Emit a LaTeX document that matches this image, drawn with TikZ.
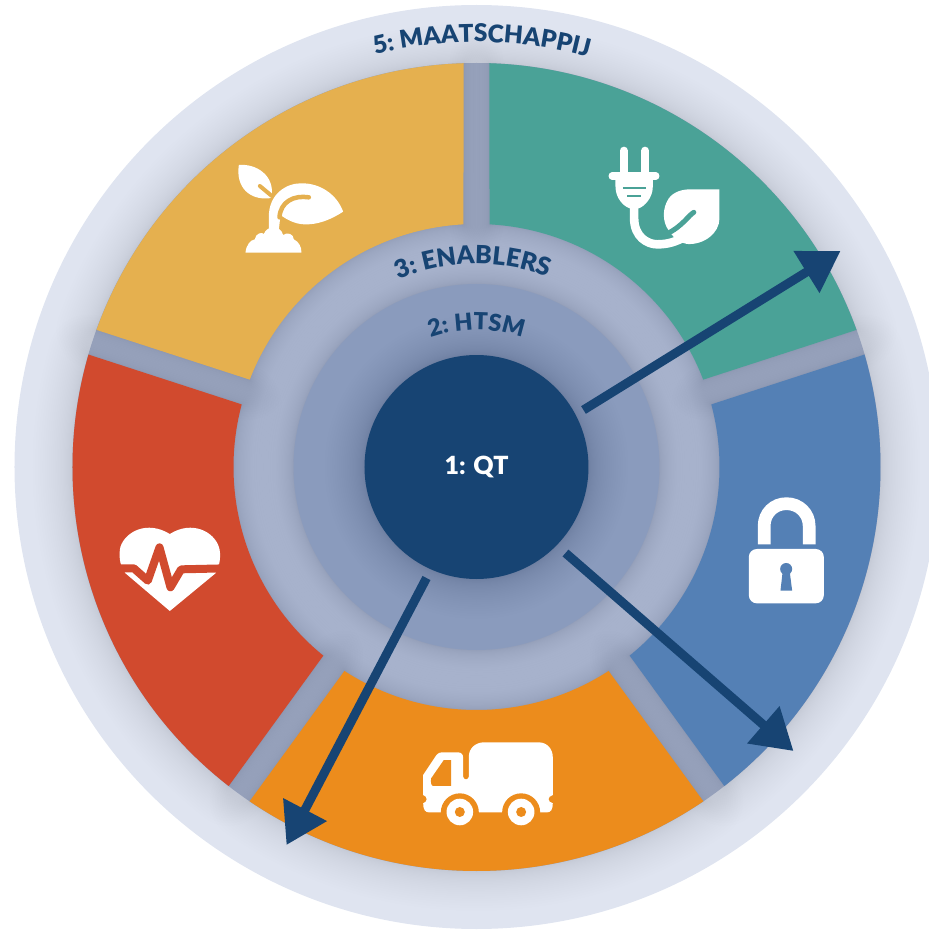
\documentclass[tikz,border=0pt]{standalone}
\usepackage{fontspec}
\usetikzlibrary{arrows.meta,decorations.text}
\newfontfamily\labelfont{Lato}[UprightFont=* Black]

\definecolor{qtblue}{HTML}{174473}
\definecolor{ringfive}{HTML}{DFE4F0}
\definecolor{ringthree}{HTML}{B0BBD5}
\definecolor{ringtwo}{HTML}{8A9BBD}
\definecolor{segyellow}{HTML}{E5B04F}
\definecolor{seggreen}{HTML}{4AA297}
\definecolor{segblue}{HTML}{5480B5}
\definecolor{segorange}{HTML}{EC8C1C}
\definecolor{segred}{HTML}{D14A2E}

% one sector of the ring, between two gap angles
\newcommand{\segpath}[2]{(#1+3.07:243) -- (#1+1.84:404) arc[start angle=#1+1.84,end angle=#2-1.84,radius=404] -- (#2-3.07:243) arc[start angle=#2-3.07,end angle=#1+3.07,radius=243] -- cycle}
% soft edge round a path
\newcommand{\softedge}[1]{
  \foreach \i [evaluate=\i as \w using 80*(\i/30)^2] in {1,...,30}
    \draw[black!80!qtblue, opacity=.0052, line width=\w pt, line join=round] #1;
}
\newcommand{\curvedlabel}[4]{
  \path[decorate, decoration={text along path, text align=center,
    text={|\fontsize{#4}{#4}\labelfont\color{qtblue}|#1}}]
    (#2+40:#3) arc[start angle=#2+40,end angle=#2-40,radius=#3];
}

\tikzset{
  icon/.style 2 args={x=.3333pt, y=-.3333pt, shift={(#1pt-476pt,467pt-#2pt)}},
  qtarrow/.style={qtblue, line width=9pt, -{Triangle[length=40pt,width=47pt]}},
}

\begin{document}
\begin{tikzpicture}[x=1pt,y=1pt]
  \useasboundingbox (-476.5,-463) rectangle (452.5,467);

  \fill[ringfive] (0,0) circle (462);
  \fill[ringthree] (0,0) circle (404);

  % shadows first, so that no sector lies under its neighbour's
  \foreach \a/\b in {18/90,90/162,162/234,234/306,306/378}{
    \softedge{\segpath{\a}{\b}}
  }
  \foreach \a/\b/\col in {18/90/seggreen,90/162/segyellow,162/234/segred,234/306/segorange,306/378/segblue}{
    \fill[\col] \segpath{\a}{\b};
  }

  \softedge{(0,0) circle (183)}
  \fill[ringtwo] (0,0) circle (183);
  \softedge{(0,0) circle (112)}
  \node[circle, fill=qtblue, minimum size=224pt, inner sep=0pt, text=white] (qt) at (0,0) {\raisebox{-2pt}{\fontsize{25}{25}\labelfont 1: QT}};

  \curvedlabel{5: MAATSCHAPPIJ}{89.3}{425}{24.5}
  \curvedlabel{3: ENABLERS}{91}{203}{25}
  \curvedlabel{2: HTSM}{90}{137}{23.5}

  % plant
  \begin{scope}[icon={200}{130}]
    \fill[white] (115,105) .. controls (165,100) and (225,135) .. (213,203) -- (205,205) .. controls (150,210) and (105,175) .. (115,105) -- cycle;
    \draw[segyellow, line width=4pt, line cap=round] (178,168) -- (214,198);
    \fill[white] (205,300) -- (205,260) .. controls (205,190) and (260,160) .. (300,160) .. controls (360,158) and (410,195) .. (428,245) .. controls (390,270) and (350,285) .. (310,283) .. controls (285,282) and (260,270) .. (240,255) -- (235,300) -- cycle;
    \draw[segyellow, line width=4.5pt, line cap=round] (237,262) .. controls (240,215) and (280,195) .. (325,202);
    \fill[white] (135,368) .. controls (137,345) and (150,330) .. (163,328) .. controls (165,310) and (185,305) .. (190,312) .. controls (200,285) and (240,285) .. (248,315) .. controls (260,305) and (280,312) .. (280,328) .. controls (295,335) and (303,350) .. (303,368) -- cycle;
  \end{scope}

  % plug and leaf
  \begin{scope}[icon={590}{130}]
    \draw[white, line width=8pt, line cap=round] (100,62) -- (100,125);
    \draw[white, line width=8pt, line cap=round] (164,62) -- (164,125);
    \draw[white, line width=7.3pt, line cap=round] (65,138) -- (196,138);
    \fill[white] (75,140) -- (187,140) -- (187,170) .. controls (187,205) and (160,230) .. (145,235) -- (118,235) .. controls (100,230) and (75,205) .. (75,170) -- cycle;
    \draw[seggreen, line width=1.8pt] (97,173) -- (167,173) (110,198) -- (153,198);
    \fill[white] (387,178) -- (387,265) .. controls (387,310) and (340,345) .. (290,342) .. controls (270,340) and (250,325) .. (235,302) .. controls (215,275) and (215,235) .. (235,205) .. controls (250,185) and (275,178) .. (300,178) -- cycle;
    \draw[seggreen, line width=5pt, line cap=round] (310,247) .. controls (295,255) and (275,290) .. (228,312);
    \draw[white, line width=8.6pt] (131,230) -- (131,265) .. controls (131,320) and (170,343) .. (200,343) .. controls (235,343) and (255,335) .. (285,320);
  \end{scope}

  % heart
  \begin{scope}[icon={100}{510}]
    \fill[white] (208,303) -- (75,190) .. controls (55,165) and (55,130) .. (60,110) .. controls (75,65) and (140,30) .. (208,72) .. controls (275,30) and (340,65) .. (355,110) .. controls (362,130) and (360,165) .. (345,190) -- cycle;
    \draw[segred, line width=8pt, line join=round] (40,175) -- (100,175) -- (142,212) -- (177,112) -- (210,232) -- (242,178) -- (375,175);
  \end{scope}

  % truck
  \begin{scope}[icon={400}{725}]
    \fill[white] (68,150) -- (108,90) .. controls (112,84) and (118,82) .. (125,82) -- (172,82) .. controls (182,82) and (188,88) .. (188,98) -- (188,155) .. controls (190,166) and (203,166) .. (205,155) -- (205,95) .. controls (205,70) and (225,52) .. (250,52) -- (415,52) .. controls (440,52) and (457,72) .. (457,97) -- (457,210) .. controls (440,215) and (440,230) .. (457,235) .. controls (457,255) and (450,262) .. (440,262) -- (85,262) .. controls (75,262) and (68,255) .. (68,235) .. controls (82,230) and (82,215) .. (68,210) -- cycle;
    \fill[segorange] (130,105) -- (152,105) -- (152,183) -- (98,183) .. controls (92,183) and (90,170) .. (92,160) -- cycle;
    \foreach \c in {178,362}{
      \fill[segorange] (\c,262) circle (19pt);
      \fill[white] (\c,261) circle (13.3pt);
      \fill[segorange] (\c,261) circle (5pt);
    }
  \end{scope}

  % padlock
  \begin{scope}[icon={730}{485}]
    \draw[white, line width=12.7pt] (101,178) -- (101,123) .. controls (101,85) and (130,56) .. (168,56) .. controls (206,56) and (236,85) .. (236,123) -- (236,178);
    \fill[white, rounded corners=8pt] (55,192) rectangle (280,355);
    \fill[segblue] (167,252) circle (6pt);
    \fill[segblue] (157,255) -- (150,317) -- (185,317) -- (177,255) -- cycle;
  \end{scope}

  \coordinate (greenstart) at (107,57);
  \coordinate (greentip) at (364,216);
  \coordinate (bluestart) at (89,-86);
  \coordinate (bluetip) at (317,-284);
  \coordinate (orangestart) at (-50,-111);
  \coordinate (orangetip) at (-190,-378);
  \draw[qtarrow] (greenstart) -- (greentip);
  \draw[qtarrow] (bluestart) -- (bluetip);
  \draw[qtarrow] (orangestart) -- (orangetip);
\end{tikzpicture}
\end{document}
